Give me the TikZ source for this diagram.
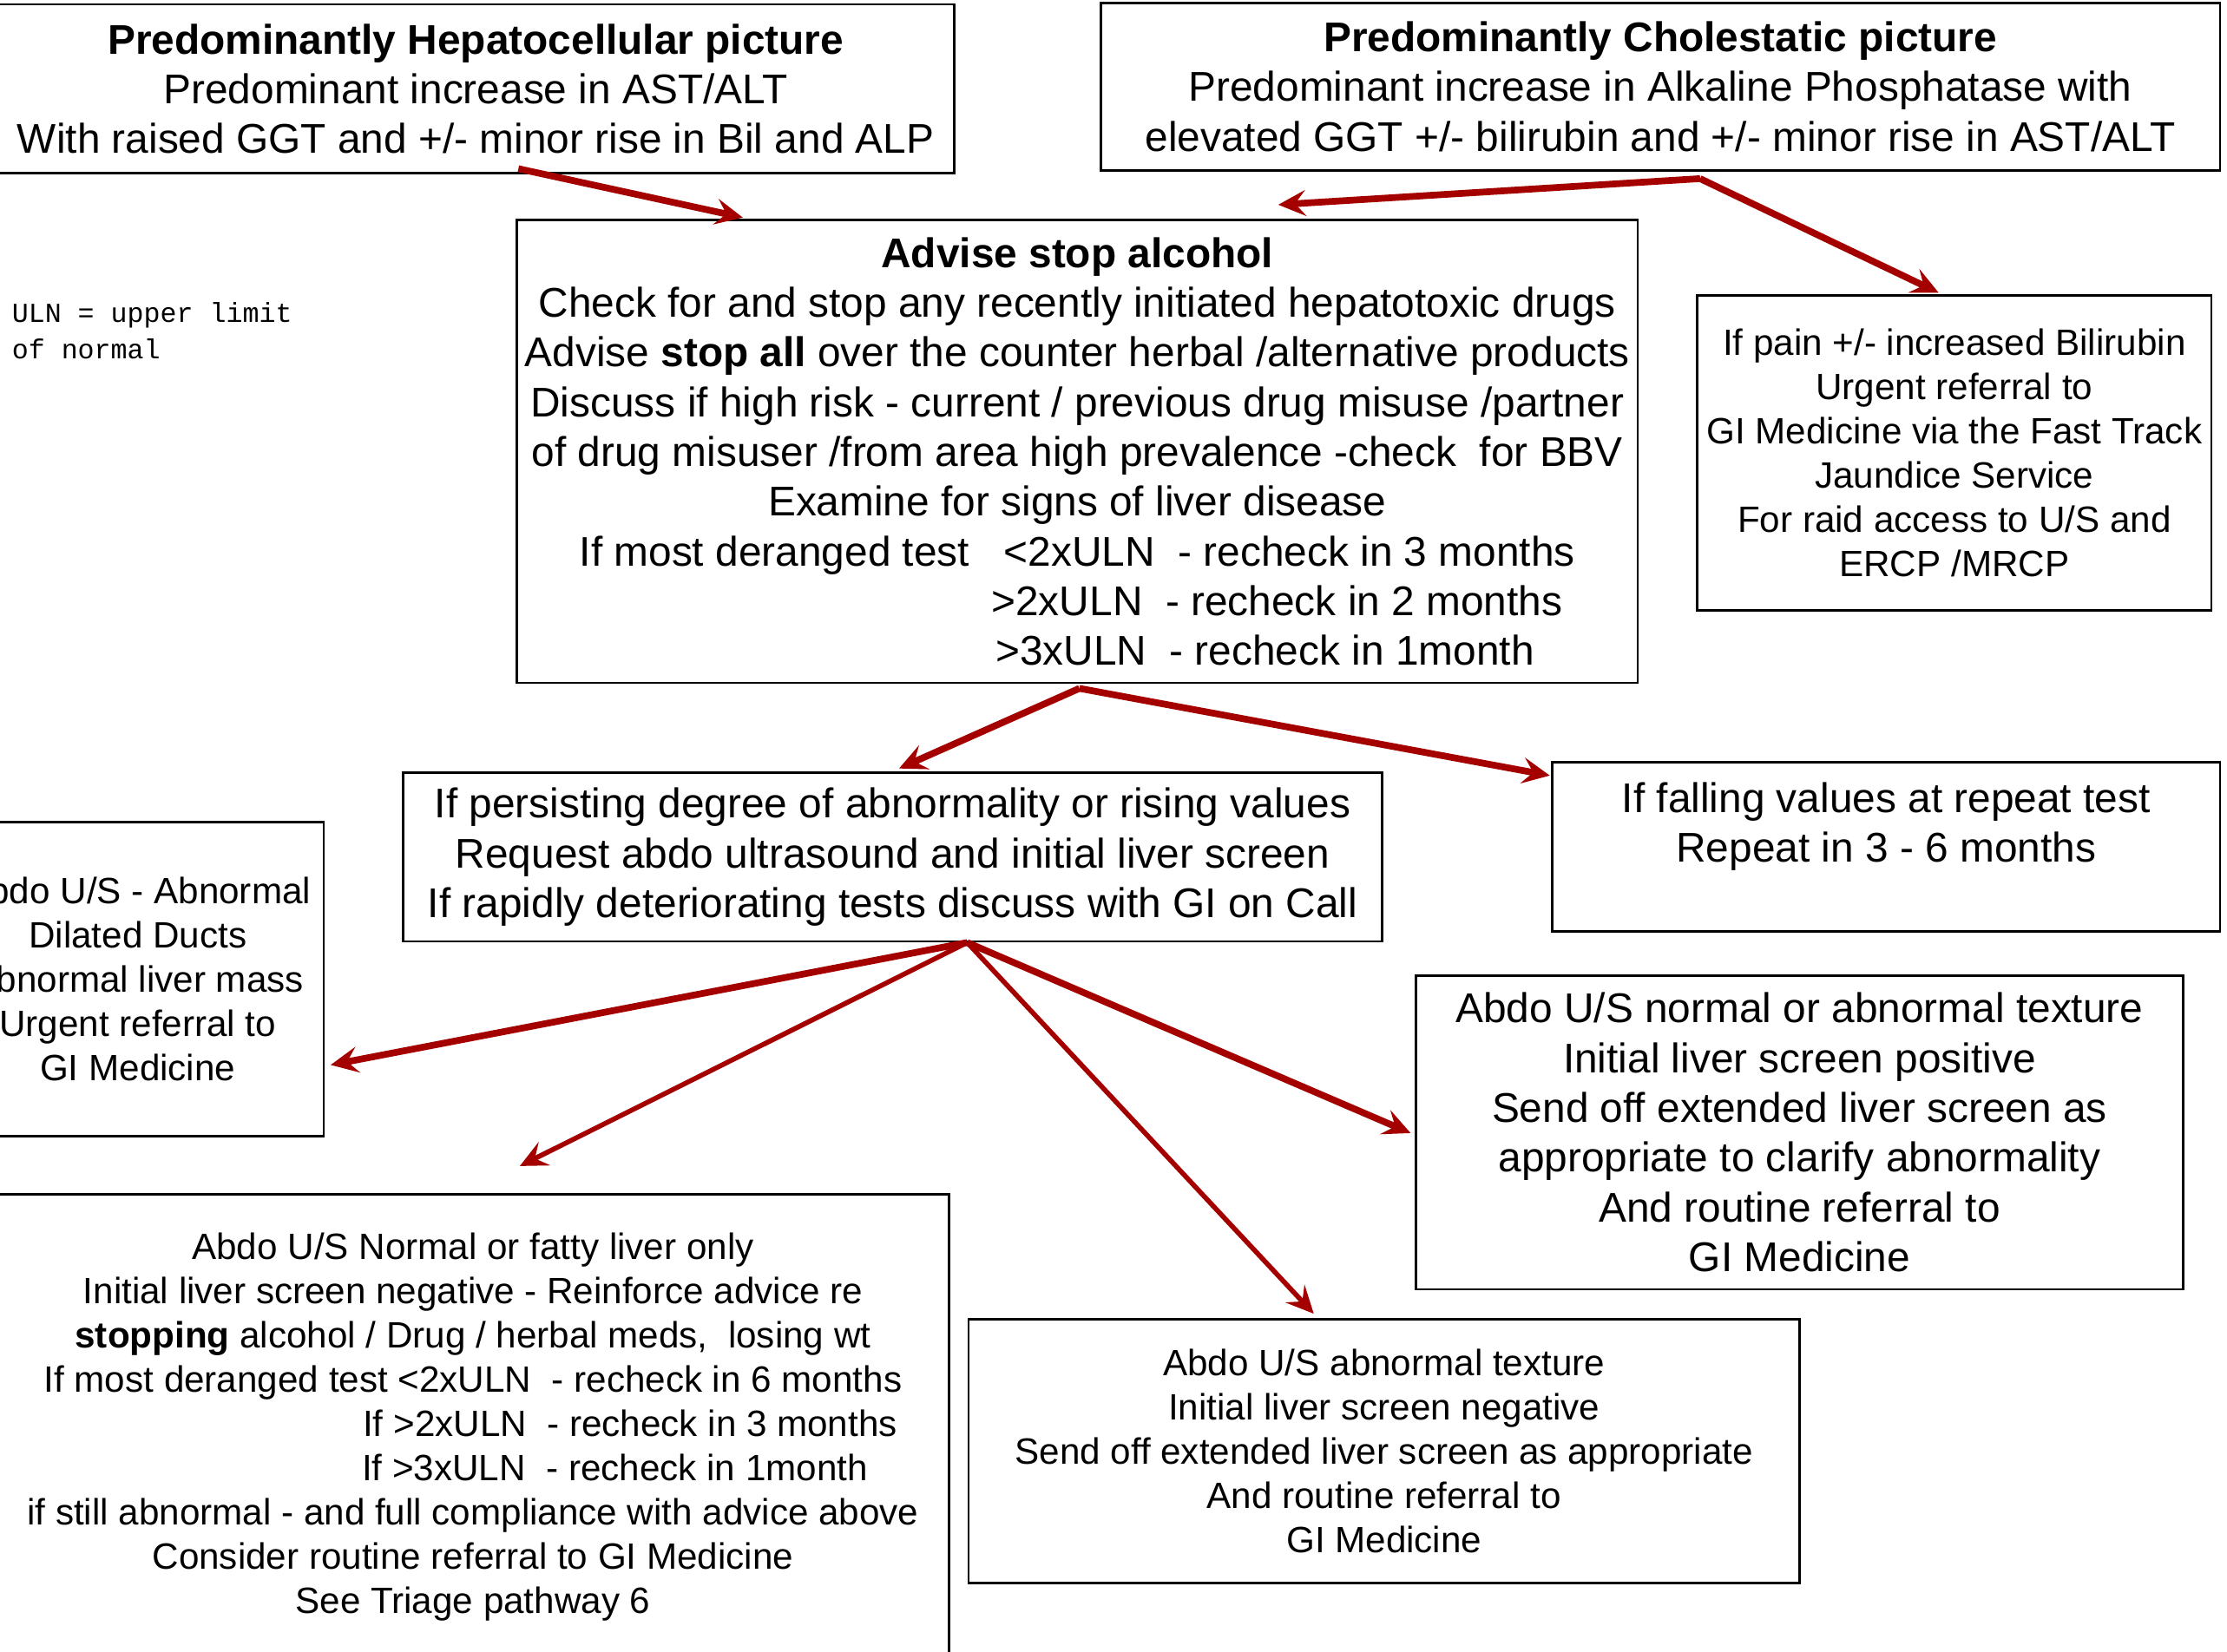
\documentclass[tikz,border=0pt]{standalone}
\usepackage{fontspec}
\setmainfont{Liberation Sans}
\newfontfamily\ulnfont{Liberation Mono}
\usetikzlibrary{arrows.meta,calc}
\definecolor{arrowred}{RGB}{165,0,0}
\newcommand{\pxu}{0.016365cm}

\begin{document}
\begin{tikzpicture}[x=\pxu,y=-\pxu,
  box/.style={draw,line width=0.75pt,inner sep=1pt,align=center},
  bigtxt/.style={font=\fontsize{13.6}{16.3}\selectfont},
  smalltxt/.style={font=\fontsize{12}{14.5}\selectfont},
  arr/.style={draw=arrowred,line width=2.2pt,-{Stealth[length=9pt,width=8.5pt,inset=3.5pt]}},
  thinarr/.style={arr,line width=1.6pt}]
  \useasboundingbox (0,0) rectangle (1568,1163);
  \clip (0,0) rectangle (1568,1163);

  \node[box,bigtxt,minimum width=674*\pxu,minimum height=119*\pxu] (hepa) at (335,62.5)
    {\textbf{Predominantly Hepatocellular picture}\\
     Predominant increase in AST/ALT\\
     With raised GGT and +/- minor rise in Bil and ALP};
  \node[box,bigtxt,minimum width=788*\pxu,minimum height=118*\pxu] (chole) at (1169,61)
    {\textbf{Predominantly Cholestatic picture}\\
     Predominant increase in Alkaline Phosphatase with\\
     elevated GGT +/- bilirubin and +/- minor rise in AST/ALT};
  \node[anchor=west,align=left,inner sep=0,font=\ulnfont\fontsize{9}{12}\selectfont] (uln) at (8,233)
    {ULN = upper limit\\of normal};
  \node[box,bigtxt,minimum width=789*\pxu,minimum height=326*\pxu] (advise) at (758.5,318)
    {\textbf{Advise stop alcohol}\\
     Check for and stop any recently initiated hepatotoxic drugs\\
     Advise \textbf{stop all} over the counter herbal /alternative products\\
     Discuss if high risk - current / previous drug misuse /partner\\
     of drug misuser /from area high prevalence -check\ \ for BBV\\
     Examine for signs of liver disease\\
     If most deranged test\ \ \ <2xULN\ \ - recheck in 3 months\\
     \hspace*{4.60cm}>2xULN\ \ - recheck in 2 months\\
     \hspace*{4.32cm}>3xULN\ \ - recheck in 1month};
  \node[box,smalltxt,minimum width=362*\pxu,minimum height=222*\pxu] (pain) at (1376,319)
    {If pain +/- increased Bilirubin\\
     Urgent referral to\\
     GI Medicine via the Fast Track\\
     Jaundice Service\\
     For raid access to U/S and\\
     ERCP /MRCP};
  \node[box,bigtxt,minimum width=689*\pxu,minimum height=119*\pxu] (persist) at (628.5,603.5)
    {If persisting degree of abnormality or rising values\\
     Request abdo ultrasound and initial liver screen\\
     If rapidly deteriorating tests discuss with GI on Call};
  \node[box,bigtxt,minimum width=470*\pxu,minimum height=119*\pxu] (fall) at (1328,596.5)
    {If falling values at repeat test\\
     Repeat in 3 - 6 months\\
     \mbox{}};
  \node[box,smalltxt,minimum width=262*\pxu,minimum height=221*\pxu] (abn) at (97,689.5)
    {Abdo U/S - Abnormal\\
     Dilated Ducts\\
     Abnormal liver mass\\
     Urgent referral to\\
     GI Medicine};
  \node[box,bigtxt,minimum width=540*\pxu,minimum height=221*\pxu] (rtex) at (1267,797.5)
    {Abdo U/S normal or abnormal texture\\
     Initial liver screen positive\\
     Send off extended liver screen as\\
     appropriate to clarify abnormality\\
     And routine referral to\\
     GI Medicine};
  \node[box,smalltxt,minimum width=670*\pxu,minimum height=328*\pxu] (bl) at (333,1005)
    {Abdo U/S Normal or fatty liver only\\
     Initial liver screen negative - Reinforce advice re\\
     \textbf{stopping} alcohol / Drug / herbal meds,\ \ losing wt\\
     If most deranged test <2xULN\ \ - recheck in 6 months\\
     \hspace*{3.62cm}If >2xULN\ \ - recheck in 3 months\\
     \hspace*{3.27cm}If >3xULN\ \ - recheck in 1month\\
     if still abnormal - and full compliance with advice above\\
     Consider routine referral to GI Medicine\\
     See Triage pathway 6};
  \node[box,smalltxt,minimum width=585*\pxu,minimum height=186*\pxu] (btex) at (974.5,1022)
    {Abdo U/S abnormal texture\\
     Initial liver screen negative\\
     Send off extended liver screen as appropriate\\
     And routine referral to\\
     GI Medicine};

  \draw[arr] ($(hepa.south)+(30,-4)$) -- ($(advise.north)+(-235.5,-1)$);
  \coordinate (cholehub) at ($(chole.south)+(28,5)$);
  \draw[arr] (cholehub) -- ($(advise.north)+(141.5,-10)$);
  \draw[arr] (cholehub) -- ($(pain.north)+(-11,-1)$);
  \coordinate (advhub) at ($(advise.south)+(1.5,3)$);
  \draw[arr] (advhub) -- ($(persist.north)+(4.5,-2)$);
  \draw[arr] (advhub) -- ($(fall.north west)+(-1,10)$);
  \coordinate (perhub) at ($(persist.south)+(52.5,0)$);
  \draw[arr] (perhub) -- ($(abn.east)+(4,60.5)$);
  \draw[thinarr] (perhub) -- ($(bl.north)+(33,-19)$);
  \draw[thinarr] (perhub) -- ($(btex.north)+(-49.5,-3)$);
  \draw[arr] (perhub) -- ($(rtex.west)+(-3,0.5)$);
\end{tikzpicture}
\end{document}
